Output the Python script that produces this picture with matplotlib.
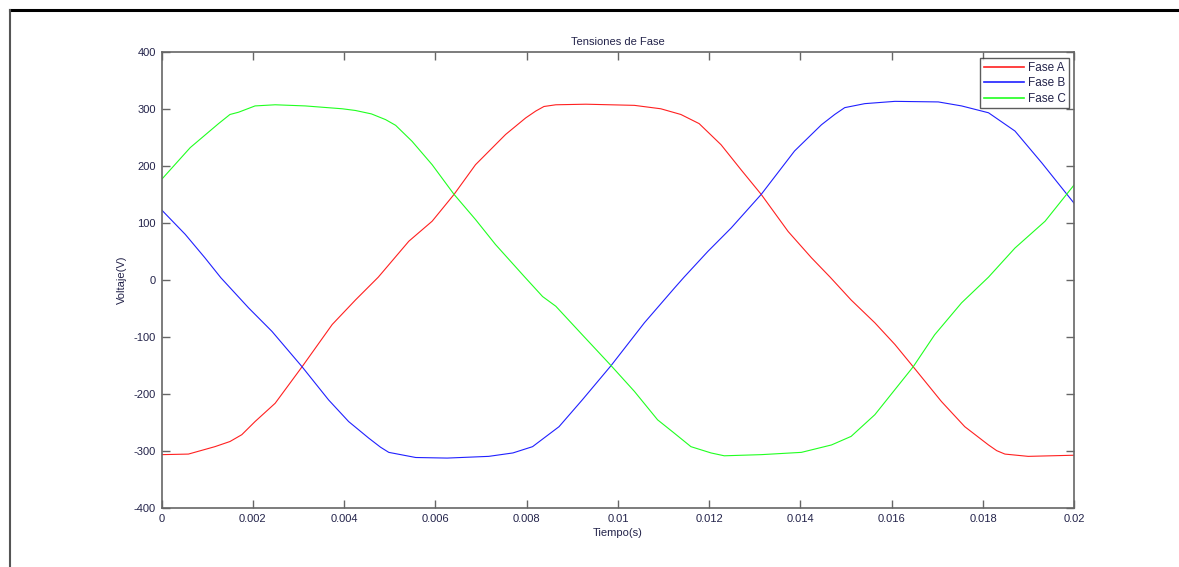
import matplotlib.pyplot as plt
from matplotlib.lines import Line2D

# sampled phase voltages, time in ms
t_a = [0, 0.59, 1.17, 1.50, 1.76, 2.05, 2.49, 3.08, 3.74, 4.25, 4.75, 5.42, 5.93, 6.41,
       6.88, 7.54, 7.98, 8.20, 8.38, 8.64, 9.3, 10.36, 10.94, 11.38, 11.78, 12.26,
       12.70, 13.14, 13.73, 14.24, 14.65, 15.11, 15.63, 16.07, 16.47, 17.09, 17.60,
       18.12, 18.30, 18.48, 18.99, 20.0]
v_a = [-306, -305, -292, -283, -271, -248, -216, -152, -78, -35, 5, 68, 103, 150,
       202, 255, 284, 296, 304, 307, 308, 306, 300, 290, 274, 237,
       193, 150, 85, 39, 5, -35, -75, -113, -152, -213, -257,
       -289, -299, -305, -309, -307]

t_b = [0, 0.52, 0.95, 1.30, 1.91, 2.42, 3.08, 3.66, 4.10, 4.54, 4.80, 4.98, 5.57, 6.26,
       7.17, 7.70, 8.13, 8.71, 9.22, 9.85, 10.58, 11.24, 11.45, 11.97, 12.48, 13.14,
       13.87, 14.46, 14.75, 14.97, 15.41, 16.07, 17.02, 17.53, 18.12, 18.70, 19.29,
       20.0]
v_b = [123, 80, 39, 4, -49, -90, -152, -210, -248, -277, -293, -302, -311, -312,
       -309, -303, -292, -257, -210, -150, -75, -14, 5, 50, 91, 150,
       226, 272, 290, 302, 309, 313, 312, 305, 293, 261, 205,
       134]

t_c = [0, 0.63, 1.25, 1.50, 1.69, 2.05, 2.49, 3.15, 3.96, 4.25, 4.60, 4.91, 5.13, 5.49,
       5.93, 6.41, 6.88, 7.32, 7.95, 8.35, 8.64, 9.22, 9.85, 10.36, 10.87, 11.23,
       11.60, 12.04, 12.33, 13.14, 14.02, 14.68, 15.11, 15.63, 16.07, 16.47, 16.94,
       17.53, 18.12, 18.70, 19.36, 20.0]
v_c = [176, 232, 274, 290, 294, 305, 307, 305, 300, 297, 291, 281, 271, 243,
       202, 150, 106, 62, 6, -29, -46, -96, -150, -195, -245, -268,
       -292, -303, -308, -306, -302, -289, -274, -236, -192, -152, -96,
       -40, 5, 56, 103, 167]

x_ticks = [0, 0.002, 0.004, 0.006, 0.008, 0.01, 0.012, 0.014, 0.016, 0.018, 0.02]
x_labels = ["0", "0.002", "0.004", "0.006", "0.008", "0.01", "0.012", "0.014",
            "0.016", "0.018", "0.02"]
y_ticks = [-400, -300, -200, -100, 0, 100, 200, 300, 400]

txt = "#23234a"
edge = "#666666"
plt.rcParams["font.family"] = ["Liberation Sans", "DejaVu Sans"]
plt.rcParams["font.size"] = 8
plt.rcParams["axes.unicode_minus"] = False

fig = plt.figure(figsize=(11.79, 5.67), dpi=100)
ax = fig.add_axes([161.5 / 1179, 1 - 508.3 / 567, (1074.3 - 161.5) / 1179, (508.3 - 51.7) / 567])

ax.plot([t / 1000 for t in t_a], v_a, color="#ff2020", lw=0.8, label="Fase A")
ax.plot([t / 1000 for t in t_b], v_b, color="#2020ff", lw=0.8, label="Fase B")
ax.plot([t / 1000 for t in t_c], v_c, color="#20ff20", lw=0.8, label="Fase C")

ax.set_xlim(0, 0.02)
ax.set_ylim(-400, 400)
ax.set_xticks(x_ticks)
ax.set_xticklabels(x_labels)
ax.set_yticks(y_ticks)
ax.tick_params(direction="in", length=5.5, width=1, color=edge, labelcolor=txt,
               labelsize=8, top=True, right=True, pad=4)
for s in ax.spines.values():
    s.set_color(edge)
    s.set_linewidth(1.2)

ax.set_title("Tensiones de Fase", color=txt, fontsize=8, pad=5)
ax.set_xlabel("Tiempo(s)", color=txt, fontsize=8, labelpad=3)
ax.set_ylabel("Voltaje(V)", color=txt, fontsize=8, labelpad=5)

leg = ax.legend(loc="upper right", bbox_to_anchor=(1069.3 / 1179, 1 - 58.3 / 567),
                bbox_transform=fig.transFigure, borderaxespad=0, fancybox=False,
                fontsize=8.5, handlelength=3.4, handletextpad=0.35, labelspacing=0.3,
                borderpad=0.3)
leg.get_frame().set_edgecolor("#333333")
leg.get_frame().set_linewidth(1.0)
for line in leg.get_lines():
    line.set_linewidth(1.2)
for t in leg.get_texts():
    t.set_color(txt)

# window border around the figure
fig.add_artist(Line2D([10 / 1179, 1], [1 - 10 / 567, 1 - 10 / 567],
                      transform=fig.transFigure, color="black", lw=2.2))
fig.add_artist(Line2D([10 / 1179, 10 / 1179], [0, 1 - 10 / 567],
                      transform=fig.transFigure, color="#555555", lw=1.5))

fig.savefig("out.png", dpi=100)
